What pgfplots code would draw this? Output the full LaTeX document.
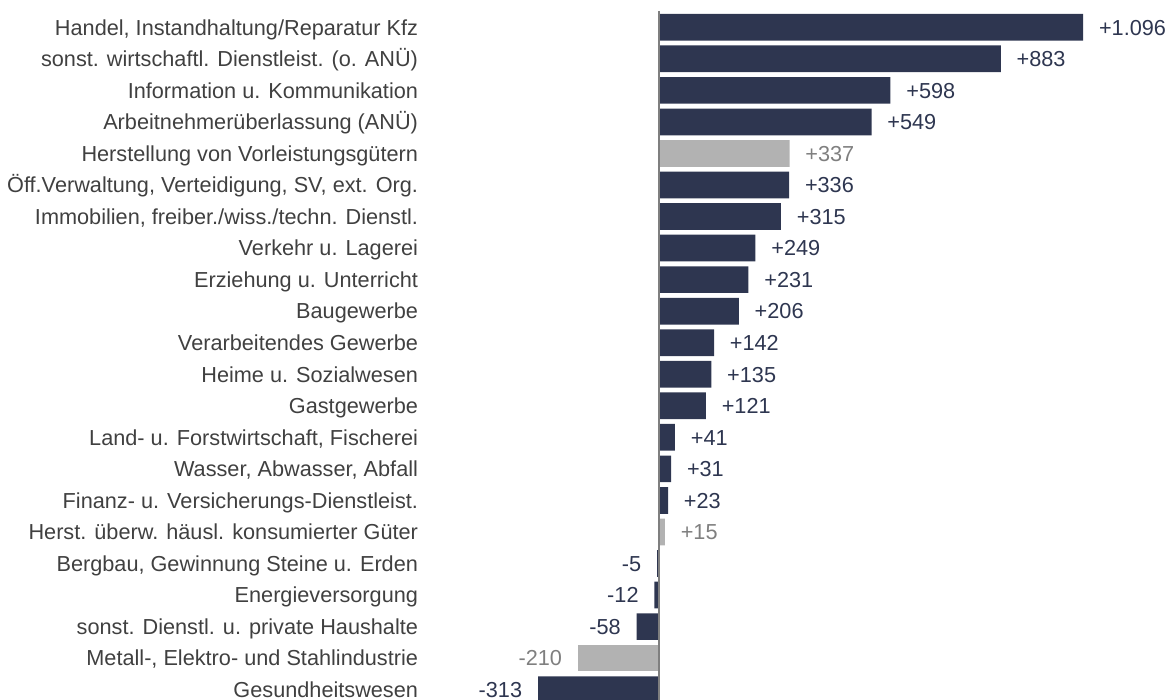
\documentclass[border=0pt]{standalone}
\usepackage{pgfplots}
\usepackage{pgfplotstable}
\pgfplotsset{compat=1.18}
\usepackage{fontspec}
\setmainfont{Liberation Sans}
\definecolor{navy}{HTML}{2E3650}
\definecolor{lgrey}{HTML}{B2B2B2}
\definecolor{tgrey}{HTML}{7F7F7F}
\definecolor{catcol}{HTML}{404040}
\newcommand{\myfont}{\fontsize{21.7bp}{25bp}\selectfont}

\pgfplotstableread{
i v lab
0 1096 +1.096
1 883 +883
2 598 +598
3 549 +549
5 336 +336
6 315 +315
7 249 +249
8 231 +231
9 206 +206
10 142 +142
11 135 +135
12 121 +121
13 41 +41
14 31 +31
15 23 +23
}\darkpos
\pgfplotstableread{
i v lab
4 337 +337
16 15 +15
}\greypos
\pgfplotstableread{
i v lab
17 -5 -5
18 -12 -12
19 -58 -58
21 -313 -313
}\darkneg
\pgfplotstableread{
i v lab
20 -210 -210
}\greyneg

\begin{document}
\begin{tikzpicture}
\begin{axis}[
  name=ax,
  xbar, bar shift=0pt, bar width=26.7bp,
  x=0.387bp, y=31.55bp, y dir=reverse,
  xmin=-622.7, xmax=1312.7,
  ymin=-0.865, ymax=21.32,
  axis line style={draw=none},
  major tick length=0pt,
  xtick=\empty,
  ytick={0,...,21},
  yticklabels={
    {Handel, Instandhaltung/Reparatur Kfz},
    {sonst. wirtschaftl. Dienstleist. (o. ANÜ)},
    {Information u. Kommunikation},
    {Arbeitnehmerüberlassung (ANÜ)},
    {Herstellung von Vorleistungsgütern},
    {Öff.Verwaltung, Verteidigung, SV, ext. Org.},
    {Immobilien, freiber./wiss./techn. Dienstl.},
    {Verkehr u. Lagerei},
    {Erziehung u. Unterricht},
    {Baugewerbe},
    {Verarbeitendes Gewerbe},
    {Heime u. Sozialwesen},
    {Gastgewerbe},
    {Land- u. Forstwirtschaft, Fischerei},
    {Wasser, Abwasser, Abfall},
    {Finanz- u. Versicherungs-Dienstleist.},
    {Herst. überw. häusl. konsumierter Güter},
    {Bergbau, Gewinnung Steine u. Erden},
    {Energieversorgung},
    {sonst. Dienstl. u. private Haushalte},
    {Metall-, Elektro- und Stahlindustrie},
    {Gesundheitswesen}},
  yticklabel style={font=\myfont, text=catcol, anchor=east, inner sep=0pt, text height=15.5bp, text depth=0pt},
  point meta=explicit symbolic,
  nodes near coords,
  every node near coord/.append style={font=\myfont, inner sep=0pt, text height=15.5bp, text depth=0pt},
]
\addplot[fill=navy, draw=none, nodes near coords style={anchor=west, xshift=15.7bp, text=navy}]
  table[x=v, y=i, meta=lab] {\darkpos};
\addplot[fill=lgrey, draw=none, nodes near coords style={anchor=west, xshift=15.7bp, text=tgrey}]
  table[x=v, y=i, meta=lab] {\greypos};
\addplot[fill=navy, draw=none, nodes near coords style={anchor=east, xshift=-15.7bp, text=navy}]
  table[x=v, y=i, meta=lab] {\darkneg};
\addplot[fill=lgrey, draw=none, nodes near coords style={anchor=east, xshift=-15.7bp, text=tgrey}]
  table[x=v, y=i, meta=lab] {\greyneg};
\draw[color=tgrey, line width=2bp] (axis cs:0,-0.52) -- (axis cs:0,21.5);
\end{axis}
\pgfresetboundingbox
\path ([xshift=-418.3bp]ax.south west) rectangle (ax.north east);
\end{tikzpicture}
\end{document}
